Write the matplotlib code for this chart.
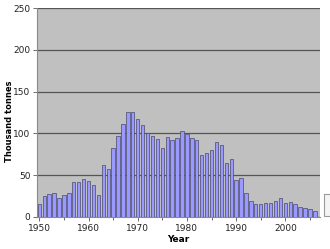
import matplotlib
matplotlib.use("Agg")
import matplotlib.pyplot as plt
import matplotlib.patches as mpatches
from matplotlib.ticker import MultipleLocator

# Catch per year, thousand tonnes
years = list(range(1950, 2007))
catch = [
    15, 25, 27, 29, 22, 26, 29, 42, 42, 45,
    43, 38, 26, 62, 57, 82, 97, 111, 125, 126,
    117, 110, 100, 97, 93, 82, 96, 92, 94, 103,
    99, 95, 92, 74, 76, 80, 90, 86, 64, 69,
    44, 46, 29, 19, 15, 15, 16, 17, 19, 22,
    16, 18, 15, 12, 10, 9, 7,
]
x_ticks = [1950, 1960, 1970, 1980, 1990, 2000]
y_ticks = [0, 50, 100, 150, 200, 250]

BG = "#C0C0C0"
BAR = "#9999FF"
GRID = "#555555"

fig = plt.figure(figsize=(3.30, 2.49), dpi=100)
fig.patch.set_facecolor("white")
ax = fig.add_axes([0.1136, 0.1297, 0.8561, 0.8370])
ax.set_facecolor(BG)

ax.bar(years, catch, width=0.68, color=BAR, edgecolor="#4a4a6a",
       linewidth=0.5, zorder=3)

ax.set_xlim(1949.63, 2007.05)
ax.set_ylim(0, 250)
ax.set_yticks(y_ticks)
ax.set_xticks(x_ticks)
ax.xaxis.set_minor_locator(MultipleLocator(5))
ax.grid(axis="y", color=GRID, linewidth=0.9, zorder=1)

for side in ("top", "right"):
    ax.spines[side].set_visible(False)
ax.spines["left"].set_color("#8a8a8a")
ax.spines["bottom"].set_color("#8a8a8a")
ax.spines["left"].set_linewidth(0.8)
ax.spines["bottom"].set_linewidth(0.8)

ax.tick_params(axis="both", which="both", direction="out", color="#555555",
               labelsize=6.5, labelcolor="#222222", width=0.6)
ax.tick_params(axis="y", length=3, pad=2)
ax.tick_params(axis="x", which="major", length=3, pad=2)
ax.tick_params(axis="x", which="minor", length=2)

ax.set_xlabel("Year", fontsize=6.5, fontweight="bold", labelpad=2)
ax.set_ylabel("Thousand tonnes", fontsize=6, fontweight="bold")
ax.yaxis.set_label_coords(-0.083, 0.46)

# cut-off legend box at the right edge
fig.patches.append(mpatches.Rectangle((324 / 330, 1 - 216 / 249), 0.03, 22 / 249,
                                      transform=fig.transFigure,
                                      facecolor="#f4f4f4", edgecolor="#999999",
                                      linewidth=0.8))

plt.savefig("out.png", dpi=100, facecolor=fig.get_facecolor())
